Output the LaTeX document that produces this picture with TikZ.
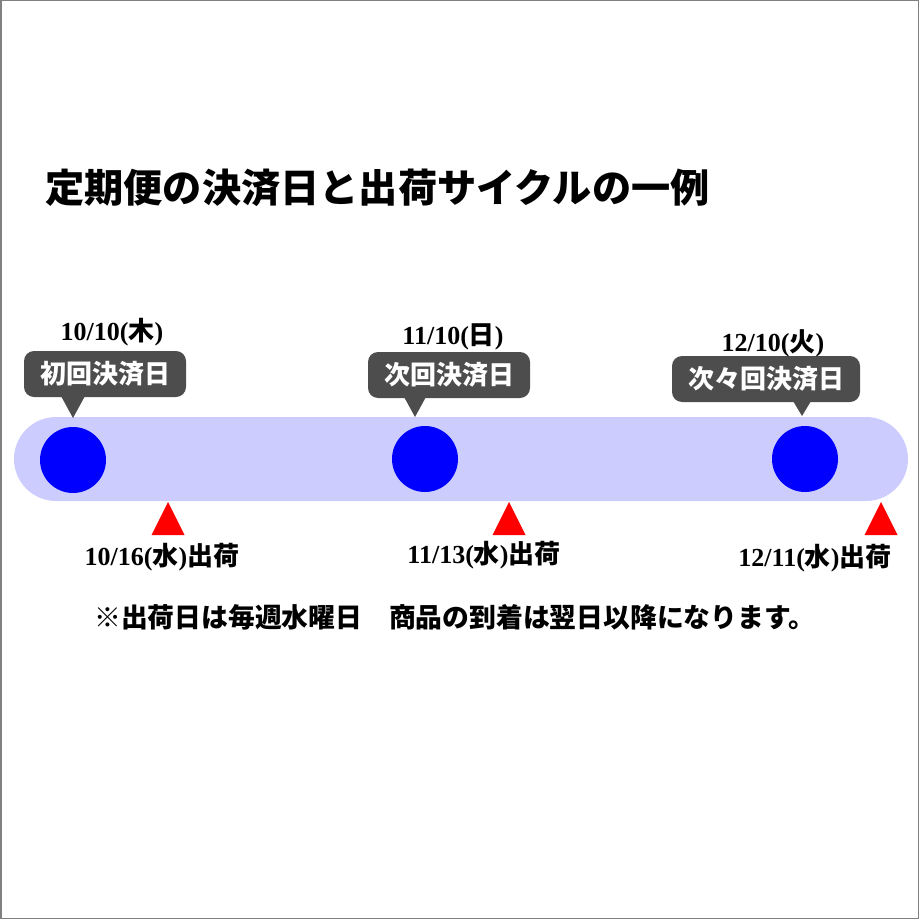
\documentclass[tikz,border=0pt]{standalone}
\usepackage{fontspec}
\setmainfont{Liberation Serif}
\newfontfamily\jpfont{Noto Sans CJK JP}
\newcommand\jp[1]{{\jpfont\bfseries #1}}
\definecolor{bandblue}{RGB}{204,204,255}
\definecolor{balloongray}{RGB}{77,77,77}
\definecolor{dotblue}{RGB}{0,0,255}
\definecolor{shipred}{RGB}{255,0,0}

\begin{document}
\begin{tikzpicture}[x=1pt,y=-1pt]
    \tikzstyle{Band}=[fill=bandblue]
    \tikzstyle{PayDot}=[circle,
                        fill         = dotblue,
                        minimum size = 66pt,
                        inner sep    = 0pt]
    \tikzstyle{Balloon}=[fill            = balloongray,
                         rounded corners = 10pt,
                         text            = white,
                         minimum height  = 46pt,
                         inner xsep      = 16pt,
                         font            = \jpfont\bfseries\fontsize{26}{26}\selectfont]
    \tikzstyle{DateLabel}=[inner sep = 0pt,
                           font      = \bfseries\fontsize{26}{26}\selectfont]
    \tikzstyle{ShipMark}=[fill = shipred]
    \useasboundingbox (0,0) rectangle (920,920);
    \draw[gray, line width=1.5pt] (0.75,0.75) rectangle (918.25,918.25);
    \node[anchor=west, inner sep=0pt,
          font=\jpfont\bfseries\fontsize{39.2}{39.2}\selectfont] (title) at (45,188)
         {定期便の決済日と出荷サイクルの一例};
    \fill[Band, rounded corners=42pt] (14,417) rectangle (908,501);
    \node[PayDot] (pay1) at (73,460) {};
    \node[PayDot] (pay2) at (425,459) {};
    \node[PayDot] (pay3) at (805,459) {};
    \coordinate (tip1) at (73,418);
    \coordinate (tip2) at (415,417);
    \coordinate (tip3) at (802,416);
    \node[Balloon] (balloon1) at (105,374) {初回決済日};
    \node[Balloon] (balloon2) at (449,375) {次回決済日};
    \node[Balloon] (balloon3) at (766,379) {次々回決済日};
    \fill[balloongray] (tip1) -- ++(-12,-22) -- ++(24,0) -- cycle;
    \fill[balloongray] (tip2) -- ++(-12,-22) -- ++(24,0) -- cycle;
    \fill[balloongray] (tip3) -- ++(-12,-20) -- ++(24,0) -- cycle;
    \node[DateLabel] (date1) at (112,332) {10/10(\jp{木})};
    \node[DateLabel] (date2) at (453,337) {11/10(\jp{日})};
    \node[DateLabel] (date3) at (773,343) {12/10(\jp{火})};
    \coordinate (ship1) at (168,502);
    \coordinate (ship2) at (509,502);
    \coordinate (ship3) at (881,502);
    \fill[ShipMark] (ship1) -- ++(-16.5,33) -- ++(33,0) -- cycle;
    \fill[ShipMark] (ship2) -- ++(-16.5,33) -- ++(33,0) -- cycle;
    \fill[ShipMark] (ship3) -- ++(-16.5,33) -- ++(33,0) -- cycle;
    \node[DateLabel] (shiplabel1) at (162,557) {10/16(\jp{水})\jp{出荷}};
    \node[DateLabel] (shiplabel2) at (484,555) {11/13(\jp{水})\jp{出荷}};
    \node[DateLabel] (shiplabel3) at (815,558) {12/11(\jp{水})\jp{出荷}};
    \node[anchor=west, inner sep=0pt,
          font=\jpfont\bfseries\fontsize{26.8}{26.8}\selectfont] (note) at (94,617)
         {※出荷日は毎週水曜日　商品の到着は翌日以降になります。};
\end{tikzpicture}
\end{document}
